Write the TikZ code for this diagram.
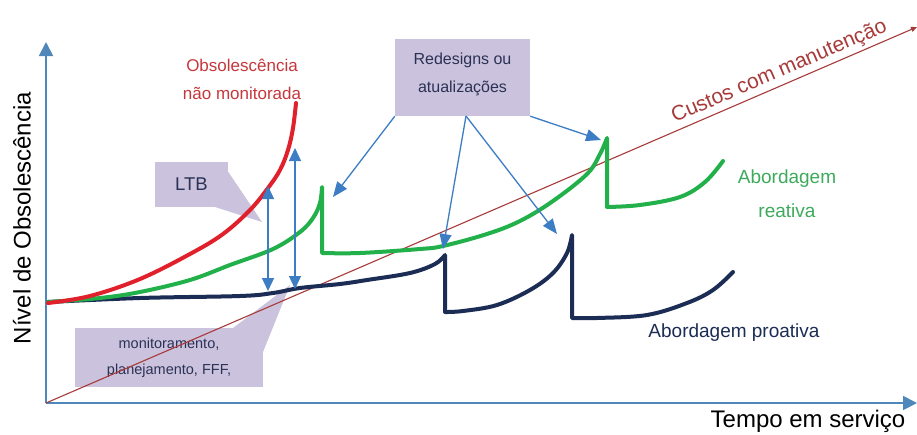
\documentclass[tikz,border=0pt]{standalone}
\usepackage{fontspec}
\setmainfont{Liberation Sans}
\usetikzlibrary{arrows.meta}
\definecolor{axisblue}{HTML}{4F87BA}
\definecolor{arrowblue}{HTML}{3C7DC4}
\definecolor{redc}{HTML}{E0202A}
\definecolor{greenc}{HTML}{22B04B}
\definecolor{navyc}{HTML}{1B2C55}
\definecolor{diagc}{HTML}{A83A3A}
\definecolor{lavender}{HTML}{CBC3DD}
\definecolor{textnavy}{HTML}{2B3155}
\definecolor{redtext}{HTML}{C6373C}
\definecolor{greentext}{HTML}{3DAA5C}
\newcommand{\myfs}[2]{\fontsize{#1}{#2}\selectfont}
\begin{document}
\begin{tikzpicture}[x=1pt,y=-1pt,
  axisline/.style={draw=axisblue,line width=1.8pt,-{Triangle[width=14pt,length=14pt]}},
  curve/.style={line width=4pt,line join=round,line cap=round},
  callbox/.style={fill=lavender,inner sep=0pt,text=textnavy,align=center},
  ptr/.style={draw=arrowblue,line width=1.3pt,-{Triangle[width=12pt,length=15pt]}},
  ltbarrow/.style={draw=arrowblue,line width=1.3pt,{Triangle[width=12pt,length=13pt]}-{Triangle[width=12pt,length=13pt]}},
  lbl/.style={inner sep=0pt,align=center}]
\useasboundingbox (0,0) rectangle (917,434);
\fill[white] (0,0) rectangle (917,434);

% callout boxes
\node[callbox,minimum width=73pt,minimum height=45pt,font=\myfs{18.5}{22}] (ltb) at (191.5,184.5) {LTB};
\fill[lavender] ([yshift=-10pt]ltb.north east) -- (262,222) -- (215,207) -- (ltb.south east) -- cycle;
\node[callbox,minimum width=188pt,minimum height=59pt,font=\myfs{14.5}{26}] (mon) at (169,357.5) {monitoramento,\\planejamento, FFF,};
\fill[lavender] (233,328) -- (290,285) -- (263,352) -- (mon.north east) -- cycle;
\node[callbox,minimum width=135pt,minimum height=77pt] (rd) at (462.5,77.5) {};
\node[lbl,text=textnavy,font=\myfs{16}{28}] (rdt) at (462.5,74) {Redesigns ou\\atualizações};

% axes
\coordinate (o) at (46,403);
\coordinate (ytop) at (46,42);
\coordinate (xend) at (917,403);
\draw[axisline] (o) -- (ytop);
\draw[axisline] (o) -- (xend);
\node[lbl,rotate=90,font=\myfs{24}{28}] (ylab) at (22,218) {Nível de Obsolescência};
\node[lbl,font=\myfs{24}{28}] (xlab) at (808,421) {Tempo em serviço};

% maintenance cost diagonal
\coordinate (dend) at (917,27);
\draw[draw=diagc,line width=1.1pt,-{Triangle[width=5pt,length=6pt]}] (o) -- (dend)
  node[pos=0.848,sloped,above=3pt,text=diagc,font=\myfs{21}{24},inner sep=0pt] (cust) {Custos com manutenção};

% curves
\draw[curve,draw=navyc] plot[smooth,tension=0.6] coordinates {(48,302) (140,298) (240,296) (273,293) (300,288) (340,284) (367,280) (410,273) (435,264) (445,255)}
  -- plot[smooth,tension=0.6] coordinates {(445,312) (463,311) (497,305) (530,290) (553,273) (567,253) (572,235)}
  -- plot[smooth,tension=0.6] coordinates {(572,318) (597,318) (647,315) (687,303) (713,290) (733,272)};
\draw[curve,draw=greenc] plot[smooth,tension=0.6] coordinates {(48,302) (100,298) (140,292) (190,280) (230,265) (273,249) (300,232) (313,218) (320,203) (322,187)}
  -- plot[smooth,tension=0.6] coordinates {(322,253) (360,253) (420,249) (443,246) (487,234) (520,221) (553,201) (587,174) (600,154) (607,138)}
  -- plot[smooth,tension=0.6] coordinates {(607,207) (640,205) (680,197) (705,182) (723,161)};
\draw[curve,draw=redc] plot[smooth,tension=0.6] coordinates {(48,303) (90,296) (140,279) (190,254) (223,234) (250,210) (268,188) (280,170) (288,150) (293,128) (296,103)};

% labels
\node[lbl,text=redtext,font=\myfs{17}{28}] (obs) at (242,79) {Obsolescência\\não monitorada};
\node[lbl,text=greentext,font=\myfs{19}{34}] (reat) at (787,194) {Abordagem\\reativa};
\node[lbl,text=navyc,font=\myfs{19}{24}] (proat) at (734,333) {Abordagem proativa};

% LTB arrows
\coordinate (l1t) at (268,186);
\coordinate (l1b) at (268,291);
\coordinate (l2t) at (295,148);
\coordinate (l2b) at (295,289);
\draw[ltbarrow] (l1b) -- (l1t);
\draw[ltbarrow] (l2b) -- (l2t);

% redesign arrows
\coordinate (rdm) at (466,116);
\coordinate (t1) at (333,197);
\coordinate (t2) at (443,249);
\coordinate (t3) at (557,234);
\coordinate (t4) at (601,140);
\draw[ptr] (rd.south west) -- (t1);
\draw[ptr] (rdm) -- (t2);
\draw[ptr] (rdm) -- (t3);
\draw[ptr] (rd.south east) -- (t4);
\end{tikzpicture}
\end{document}
